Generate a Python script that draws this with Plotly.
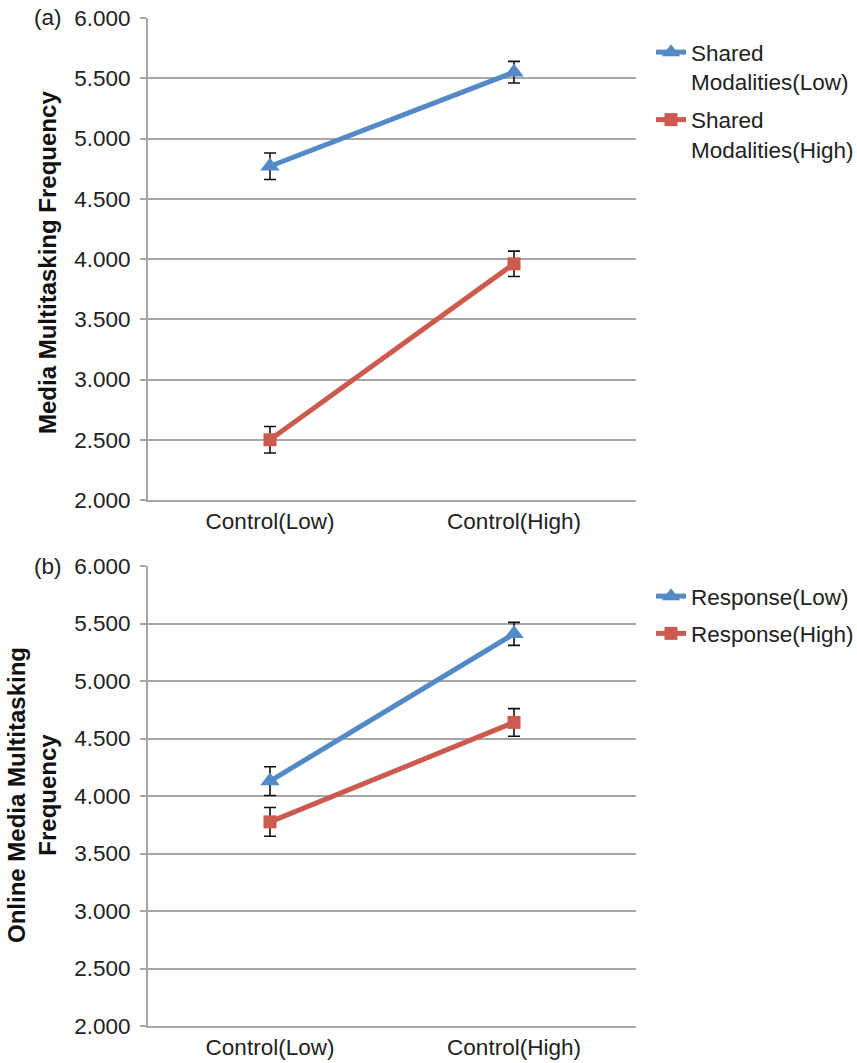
import plotly.graph_objects as go

W, H = 857, 1063

categories = ["Control(Low)", "Control(High)"]

# Panel (a)
a_low_vals = [4.77, 5.55]
a_low_err = [0.11, 0.09]
a_high_vals = [2.50, 3.96]
a_high_err = [0.11, 0.105]
a_names = ["Shared<br>Modalities(Low)", "Shared<br>Modalities(High)"]

# Panel (b)
b_low_vals = [4.13, 5.41]
b_low_err = [0.125, 0.10]
b_high_vals = [3.775, 4.64]
b_high_err = [0.125, 0.12]
b_names = ["Response(Low)", "Response(High)"]

y_ticks = [2.0, 2.5, 3.0, 3.5, 4.0, 4.5, 5.0, 5.5, 6.0]

BLUE = "#5389C6"
RED = "#CC5A4F"
GRID = "#A6A6A6"
FONT = "Liberation Sans, Arial, Helvetica, sans-serif"
FS = 22.5
TFS = 24

def px_x(p):
    return p / W

def px_y(p):
    return 1 - p / H

fig = go.Figure()

def add_series(vals, errs, name, color, symbol, msize, xa, ya, legend, group):
    fig.add_trace(go.Scatter(
        x=categories, y=vals, name=name, mode="lines+markers",
        line=dict(color=color, width=5),
        marker=dict(symbol=symbol, size=msize, color=color),
        error_y=dict(type="data", array=errs, visible=True, color="#111111",
                     thickness=1.6, width=6),
        xaxis=xa, yaxis=ya, legend=legend, legendgroup=group,
    ))

add_series(a_low_vals, a_low_err, a_names[0], BLUE, "triangle-up", 17, "x", "y", "legend", "a1")
add_series(a_high_vals, a_high_err, a_names[1], RED, "square", 13, "x", "y", "legend", "a2")
add_series(b_low_vals, b_low_err, b_names[0], BLUE, "triangle-up", 17, "x2", "y2", "legend2", "b1")
add_series(b_high_vals, b_high_err, b_names[1], RED, "square", 13, "x2", "y2", "legend2", "b2")

xdom = [px_x(148), px_x(636)]
common_x = dict(
    type="category", range=[-0.5, 1.5], showgrid=False, showline=True,
    linecolor=GRID, linewidth=2, ticks="", tickfont=dict(family=FONT, size=FS, color="#222222"),
    domain=xdom, fixedrange=True, ticklabelstandoff=0, automargin=False,
)
common_y = dict(
    range=[2, 6], tickvals=y_ticks, tickformat=".3f", showgrid=True, gridcolor=GRID,
    gridwidth=1.5, showline=True, linecolor=GRID, linewidth=2, ticks="outside",
    ticklen=6, tickcolor=GRID, tickwidth=1.5, zeroline=False, automargin=False,
    tickfont=dict(family=FONT, size=FS, color="#222222"), ticklabelstandoff=5,
)

fig.update_layout(
    width=W, height=H, margin=dict(l=0, r=0, t=0, b=0, autoexpand=False),
    paper_bgcolor="white", plot_bgcolor="white",
    font=dict(family=FONT, size=FS, color="#222222"),
    xaxis=dict(**common_x, anchor="y"),
    yaxis=dict(**common_y, domain=[px_y(500), px_y(18)], anchor="x"),
    xaxis2=dict(**common_x, anchor="y2"),
    yaxis2=dict(**common_y, domain=[px_y(1026), px_y(566)], anchor="x2"),
    legend=dict(x=px_x(651), y=px_y(31), xanchor="left", yanchor="top",
                valign="top", font=dict(family=FONT, size=FS, color="#222222"),
                bgcolor="rgba(0,0,0,0)", tracegroupgap=6, itemwidth=30,
                traceorder="grouped"),
    legend2=dict(x=px_x(651), y=px_y(575), xanchor="left", yanchor="top",
                 valign="top", font=dict(family=FONT, size=FS, color="#222222"),
                 bgcolor="rgba(0,0,0,0)", tracegroupgap=5, itemwidth=30,
                 traceorder="grouped"),
    showlegend=True,
)

annotations = [
    dict(text="(a)", x=px_x(48), y=px_y(18), xref="paper", yref="paper",
         xanchor="center", yanchor="middle", showarrow=False,
         font=dict(family=FONT, size=FS, color="#222222")),
    dict(text="(b)", x=px_x(48), y=px_y(566), xref="paper", yref="paper",
         xanchor="center", yanchor="middle", showarrow=False,
         font=dict(family=FONT, size=FS, color="#222222")),
    dict(text="<b>Media Multitasking Frequency</b>", x=px_x(47), y=px_y(263),
         xref="paper", yref="paper", xanchor="center", yanchor="middle",
         textangle=-90, showarrow=False,
         font=dict(family=FONT, size=TFS, color="#111111")),
    dict(text="<b>Online Media Multitasking<br>Frequency</b>", x=px_x(32), y=px_y(795),
         xref="paper", yref="paper", xanchor="center", yanchor="middle",
         textangle=-90, showarrow=False,
         font=dict(family=FONT, size=TFS, color="#111111")),
]
fig.update_layout(annotations=annotations)

fig.write_html("out.html", config={"displayModeBar": False},
               post_script="document.body.style.margin='0';")
